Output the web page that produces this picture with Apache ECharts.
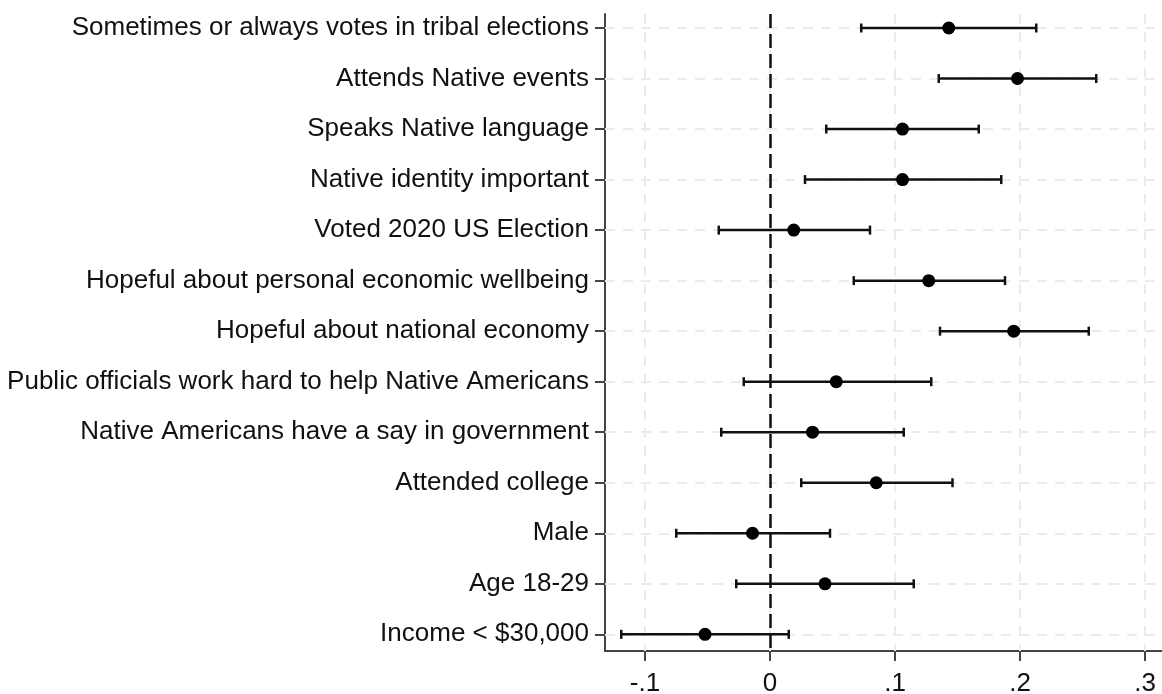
<!DOCTYPE html>
<html>
<head>
<meta charset="utf-8">
<script src="https://cdn.jsdelivr.net/npm/echarts@6/dist/echarts.min.js"></script>
<style>
  html, body { margin: 0; padding: 0; background: #fff; }
  #chart { width: 1162px; height: 694px; }
</style>
</head>
<body>
<div id="chart"></div>
<script>
var categories = [
    'Sometimes or always votes in tribal elections',
    'Attends Native events',
    'Speaks Native language',
    'Native identity important',
    'Voted 2020 US Election',
    'Hopeful about personal economic wellbeing',
    'Hopeful about national economy',
    'Public officials work hard to help Native Americans',
    'Native Americans have a say in government',
    'Attended college',
    'Male',
    'Age 18-29',
    'Income < $30,000'
];
var estimates = [0.143, 0.198, 0.106, 0.106, 0.019, 0.127, 0.195, 0.053, 0.034, 0.085, -0.014, 0.044, -0.052];
var lower = [0.073, 0.135, 0.045, 0.028, -0.041, 0.067, 0.136, -0.021, -0.039, 0.025, -0.075, -0.027, -0.119];
var upper = [0.213, 0.261, 0.167, 0.185, 0.080, 0.188, 0.255, 0.129, 0.107, 0.146, 0.048, 0.115, 0.015];
var xTicks = [-0.1, 0, 0.1, 0.2, 0.3];

var chart = echarts.init(document.getElementById('chart'));
var rows = categories.map(function(c, i) { return i + 1; });

var pointData = estimates.map(function(v, i) { return [v, i + 1]; });
var barData = estimates.map(function(v, i) { return [lower[i], upper[i], i + 1]; });

function renderBar(params, api) {
    var a = api.coord([api.value(0), api.value(2)]);
    var b = api.coord([api.value(1), api.value(2)]);
    var h = 4.5;
    var st = { stroke: '#111', lineWidth: 2.5 };
    return {
        type: 'group',
        children: [
            { type: 'line', shape: { x1: a[0], y1: a[1], x2: b[0], y2: b[1] }, style: st },
            { type: 'line', shape: { x1: a[0], y1: a[1] - h, x2: a[0], y2: a[1] + h }, style: st },
            { type: 'line', shape: { x1: b[0], y1: b[1] - h, x2: b[0], y2: b[1] + h }, style: st }
        ]
    };
}

var gridStyle = { color: '#ebebeb', width: 2, type: [10, 8] };

option = {
    animation: false,
    backgroundColor: '#fff',
    textStyle: { fontFamily: 'Liberation Sans, Arial, sans-serif' },
    grid: { left: 605, right: 0, top: 14, bottom: 43, containLabel: false, outerBoundsMode: 'none' },
    xAxis: {
        type: 'value',
        min: -0.132,
        max: 0.3136,
        splitLine: { show: false },
        axisLine: { show: true, onZero: false, lineStyle: { color: '#444', width: 2 } },
        axisTick: { show: true, length: 10, customValues: xTicks, lineStyle: { color: '#444', width: 2 } },
        axisLabel: {
            customValues: xTicks,
            margin: 20,
            fontSize: 26,
            color: '#111',
            fontFamily: 'Liberation Sans',
            formatter: function(v) {
                if (Math.abs(v) < 1e-9) return '0';
                return String(Math.round(v * 10) / 10).replace('0.', '.');
            }
        }
    },
    yAxis: {
        type: 'value',
        inverse: true,
        min: 0.723,
        max: 13.33,
        splitLine: { show: false },
        axisLine: { show: true, onZero: false, lineStyle: { color: '#444', width: 2 } },
        axisTick: { show: true, length: 10, customValues: rows, lineStyle: { color: '#444', width: 2 } },
        axisLabel: {
            customValues: rows,
            margin: 16,
            fontSize: 26,
            color: '#111',
            fontFamily: 'Liberation Sans',
            formatter: function(v) { return categories[Math.round(v) - 1]; }
        }
    },
    series: [
        {
            // light dashed grid
            type: 'scatter',
            data: [],
            silent: true,
            z: 1,
            markLine: {
                silent: true,
                z: 1,
                symbol: 'none',
                label: { show: false },
                lineStyle: gridStyle,
                data: xTicks.map(function(t) { return { xAxis: t }; })
                    .concat(rows.map(function(r) { return { yAxis: r }; }))
            }
        },
        {
            // zero reference line
            type: 'scatter',
            data: [],
            silent: true,
            z: 2,
            markLine: {
                silent: true,
                z: 2,
                symbol: 'none',
                label: { show: false },
                lineStyle: { color: '#111', width: 2.5, type: [14, 6] },
                data: [{ xAxis: 0 }]
            }
        },
        {
            type: 'custom',
            renderItem: renderBar,
            data: barData,
            z: 3
        },
        {
            type: 'scatter',
            data: pointData,
            symbol: 'circle',
            symbolSize: 13,
            itemStyle: { color: '#000', opacity: 1 },
            z: 4
        }
    ]
};
chart.setOption(option);
</script>
</body>
</html>
